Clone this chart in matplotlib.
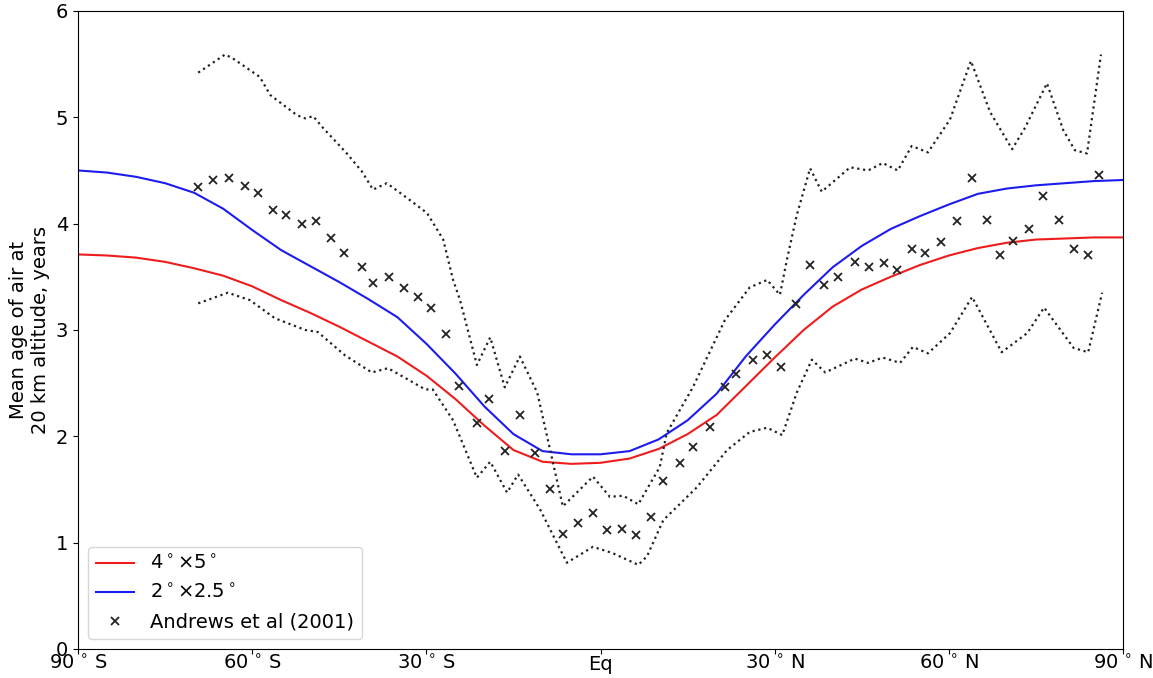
import matplotlib
matplotlib.use("Agg")
import matplotlib.pyplot as plt

# model zonal-mean age of air at 20 km (years)
model_lat = [-90, -85, -80, -75, -70, -65, -60, -55, -50, -45, -40, -35, -30, -25,
             -20, -15, -10, -5, 0, 5, 10, 15, 20, 25, 30, 35, 40, 45, 50, 55, 60,
             65, 70, 75, 80, 85, 90]
age_4x5 = [3.71, 3.70, 3.68, 3.64, 3.58, 3.51, 3.41, 3.28, 3.16, 3.03, 2.89, 2.75,
           2.57, 2.35, 2.10, 1.87, 1.76, 1.74, 1.75, 1.79, 1.88, 2.02, 2.20, 2.47,
           2.74, 3.00, 3.22, 3.38, 3.50, 3.61, 3.70, 3.77, 3.82, 3.85, 3.86, 3.87, 3.87]
age_2x25 = [4.50, 4.48, 4.44, 4.38, 4.29, 4.14, 3.94, 3.75, 3.60, 3.45, 3.29, 3.12,
            2.87, 2.59, 2.28, 2.02, 1.86, 1.83, 1.83, 1.86, 1.97, 2.15, 2.40, 2.75,
            3.05, 3.33, 3.59, 3.79, 3.95, 4.07, 4.18, 4.28, 4.33, 4.36, 4.38, 4.40, 4.41]

# Andrews et al (2001) observations
obs_lat = [-69.3, -66.7, -64.0, -61.2, -59.0, -56.4, -54.2, -51.4, -49.0, -46.4,
           -44.2, -41.1, -39.2, -36.4, -33.9, -31.4, -29.2, -26.6, -24.4, -21.3,
           -19.2, -16.5, -13.9, -11.3, -8.7, -6.5, -3.9, -1.3, 1.1, 3.7, 6.1, 8.7,
           10.8, 13.7, 15.9, 18.9, 21.4, 23.3, 26.3, 28.7, 31.1, 33.7, 36.1, 38.5,
           40.9, 43.8, 46.2, 48.8, 51.1, 53.6, 55.9, 58.6, 61.4, 64.0, 66.6, 68.8,
           71.0, 73.8, 76.2, 79.0, 81.5, 84.0, 85.9]
obs_age = [4.34, 4.41, 4.43, 4.35, 4.29, 4.13, 4.08, 4.00, 4.02, 3.86,
           3.72, 3.59, 3.44, 3.50, 3.39, 3.31, 3.21, 2.96, 2.47, 2.12,
           2.35, 1.86, 2.20, 1.84, 1.50, 1.08, 1.18, 1.28, 1.12, 1.13, 1.07, 1.24,
           1.58, 1.75, 1.90, 2.09, 2.46, 2.59, 2.72, 2.76, 2.65, 3.24, 3.61, 3.42,
           3.50, 3.64, 3.59, 3.63, 3.56, 3.76, 3.72, 3.83, 4.02, 4.43, 4.03, 3.70,
           3.84, 3.95, 4.26, 4.03, 3.76, 3.70, 4.46]

# observational spread
upper_lat = [-69.3, -64.7, -63.5, -58.7, -56.9, -55.7, -52.3, -50.9, -49.5, -47.8,
             -43.7, -41.1, -39.2, -36.8, -33.3, -29.9, -27.1, -25.4, -24.2, -21.3,
             -19.0, -16.5, -13.9, -10.9, -6.5, -1.3, 1.6, 3.9, 6.5, 10.2, 11.4, 15.9,
             21.4, 25.7, 28.7, 30.9, 32.1, 33.8, 36.1, 38.1, 43.0, 46.1, 48.6, 51.2,
             53.6, 56.4, 60.2, 63.8, 67.1, 70.9, 73.1, 76.9, 79.7, 81.7, 83.8, 86.2]
upper_age = [5.42, 5.59, 5.56, 5.38, 5.21, 5.16, 5.02, 4.99, 5.01, 4.90,
             4.66, 4.49, 4.32, 4.38, 4.24, 4.10, 3.85, 3.47, 3.28, 2.67,
             2.93, 2.46, 2.75, 2.41, 1.34, 1.62, 1.43, 1.44, 1.36, 1.71, 2.03, 2.46,
             3.09, 3.40, 3.47, 3.33, 3.66, 4.08, 4.52, 4.30, 4.53, 4.50, 4.57, 4.50,
             4.73, 4.67, 4.98, 5.53, 5.05, 4.70, 4.90, 5.32, 4.88, 4.69, 4.66, 5.59]
lower_lat = [-69.3, -64.2, -60.4, -56.1, -50.9, -48.7, -44.0, -39.4, -36.6, -33.7,
             -30.2, -28.9, -25.4, -21.3, -19.0, -16.1, -14.2, -10.4, -5.8, -1.3,
             2.1, 6.5, 8.0, 10.8, 16.6, 21.8, 25.7, 28.7, 31.3, 33.8, 36.4, 38.7,
             43.8, 46.1, 48.6, 51.6, 53.8, 56.4, 60.2, 64.0, 69.1, 73.5, 76.4, 81.5,
             84.0, 86.4]
lower_age = [3.25, 3.35, 3.28, 3.11, 3.00, 2.98, 2.76, 2.60, 2.64, 2.55,
             2.44, 2.44, 2.15, 1.61, 1.76, 1.47, 1.64, 1.31, 0.81, 0.96,
             0.90, 0.79, 0.87, 1.21, 1.52, 1.87, 2.04, 2.08, 2.01, 2.41, 2.72, 2.60,
             2.73, 2.69, 2.74, 2.69, 2.84, 2.78, 2.97, 3.31, 2.79, 2.97, 3.21, 2.83,
             2.79, 3.35]

xticks = [-90, -60, -30, 0, 30, 60, 90]
xlabels = [r'90$\,^\circ\,$S', r'60$\,^\circ\,$S', r'30$\,^\circ\,$S', 'Eq',
           r'30$\,^\circ\,$N', r'60$\,^\circ\,$N', r'90$\,^\circ\,$N']

fig = plt.figure(figsize=(11.53, 6.78), dpi=100)
ax = fig.add_axes([0.0677, 0.043, 0.9063, 0.9408])

ax.plot(model_lat, age_4x5, color='#ee1c1c', lw=1.5, label=r'4$^\circ$$\times$5$^\circ$')
ax.plot(model_lat, age_2x25, color='#1c1cee', lw=1.5, label=r'2$^\circ$$\times$2.5$^\circ$')
ax.plot(obs_lat, obs_age, 'x', color='#222222', ms=6, mew=1.3, label='Andrews et al (2001)')
ax.plot(upper_lat, upper_age, ':', color='#222222', lw=1.6)
ax.plot(lower_lat, lower_age, ':', color='#222222', lw=1.6)

ax.set_xlim(-90, 90)
ax.set_ylim(0, 6)
ax.set_xticks(xticks)
ax.set_xticklabels(xlabels)
ax.tick_params(labelsize=14)
# put all x labels on a common baseline so 'Eq' lines up with the degree labels
ax.tick_params(axis='x', pad=11.5)
for lbl in ax.get_xticklabels():
    lbl.set_va('baseline')
ax.set_ylabel('Mean age of air at\n20 km altitude, years', fontsize=14)
ax.legend(loc='lower left', fontsize=14, numpoints=1)

fig.savefig('out.png', dpi=100)
